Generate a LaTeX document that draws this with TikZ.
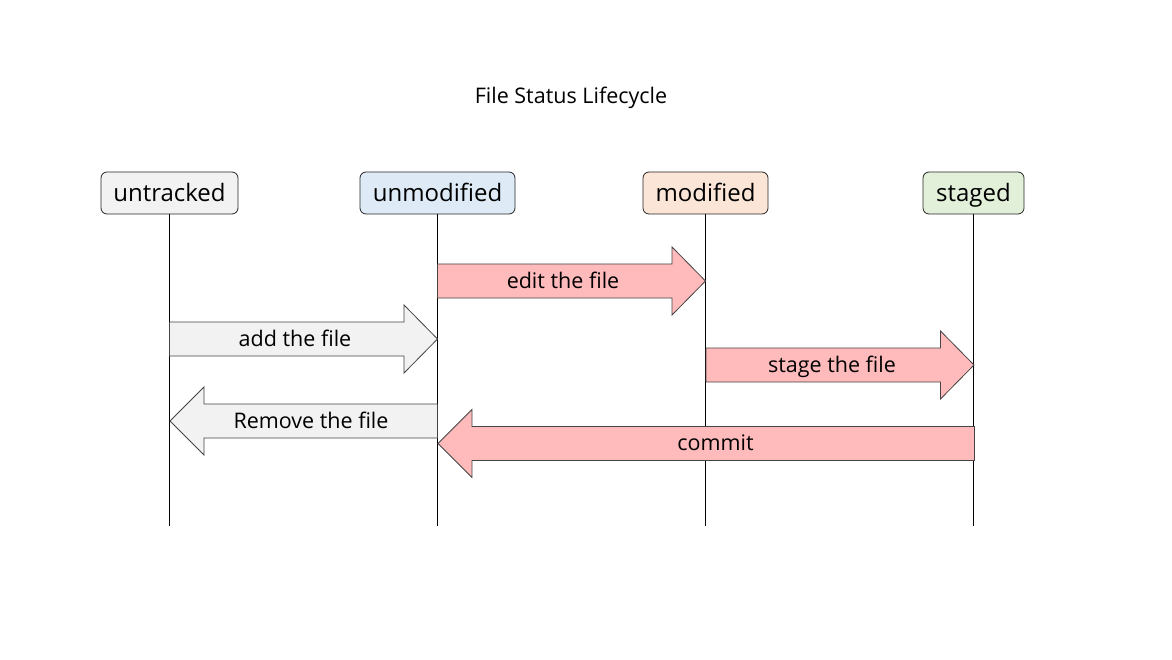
\documentclass[tikz,border=0pt]{standalone}
\usepackage{fontspec}
\setmainfont{Open Sans}
\definecolor{untrackedfill}{HTML}{F2F2F2}
\definecolor{unmodfill}{HTML}{DEEBF7}
\definecolor{modfill}{HTML}{FBE5D6}
\definecolor{stagedfill}{HTML}{E2F0D9}
\definecolor{pinkfill}{HTML}{FFBBBB}
\definecolor{grayfill}{HTML}{F2F2F2}
\definecolor{edgegray}{HTML}{444444}
\begin{document}
\begin{tikzpicture}[x=1pt,y=-1pt,
  state/.style={draw=black!85, line width=0.8pt, rounded corners=6pt, minimum height=42pt, inner sep=0pt, text height=24pt, text depth=6pt, font=\fontsize{24}{28}\selectfont},
  lifeline/.style={draw=black, line width=0.9pt},
  bigarrow/.style={draw=edgegray, line width=0.8pt},
  arrowlabel/.style={font=\fontsize{21.5}{26}\selectfont, inner sep=0pt, text height=19.4pt, text depth=5pt},
]
\useasboundingbox (0,0) rectangle (1172,660);
\fill[white] (0,0) rectangle (1172,660);

\node[font=\fontsize{21.5}{26}\selectfont, anchor=base, inner sep=0pt] (title) at (571,103.3) {File Status Lifecycle};

\node[state, fill=untrackedfill, minimum width=137pt] (untracked) at (169.5,193) {untracked};
\node[state, fill=unmodfill, minimum width=155pt] (unmodified) at (437.5,193) {unmodified};
\node[state, fill=modfill, minimum width=125pt] (modified) at (705.5,193) {modified};
\node[state, fill=stagedfill, minimum width=101pt] (staged) at (973.5,193) {staged};

\coordinate (untrackedEnd) at (169.5,526);
\coordinate (unmodifiedEnd) at (437.5,526);
\coordinate (modifiedEnd) at (705.5,526);
\coordinate (stagedEnd) at (973.5,526);

\draw[lifeline] (untracked.south) -- (untrackedEnd);
\draw[lifeline] (unmodified.south) -- (unmodifiedEnd);
\draw[lifeline] (modified.south) -- (modifiedEnd);
\draw[lifeline] (staged.south) -- (stagedEnd);

% edit the file: unmodified -> modified
\draw[bigarrow, fill=pinkfill] (437.5,264) -- (672,264) -- (672,247) -- (705.5,281) -- (672,315) -- (672,298) -- (437.5,298) -- cycle;
\node[arrowlabel] (editlabel) at (563,281) {edit the file};

% add the file: untracked -> unmodified
\draw[bigarrow, fill=grayfill] (169.5,322) -- (404,322) -- (404,305) -- (437.5,339) -- (404,373) -- (404,356) -- (169.5,356) -- cycle;
\node[arrowlabel] (addlabel) at (295,339) {add the file};

% stage the file: modified -> staged
\draw[bigarrow, fill=pinkfill] (706,348) -- (940.5,348) -- (940.5,331) -- (974,365) -- (940.5,399) -- (940.5,382) -- (706,382) -- cycle;
\node[arrowlabel] (stagelabel) at (832,365) {stage the file};

% Remove the file: unmodified -> untracked
\draw[bigarrow, fill=grayfill] (437.5,404) -- (204,404) -- (204,387) -- (170,421) -- (204,455) -- (204,438) -- (437.5,438) -- cycle;
\node[arrowlabel] (removelabel) at (311,421) {Remove the file};

% commit: staged -> unmodified
\draw[bigarrow, fill=pinkfill] (974.5,426.5) -- (472,426.5) -- (472,409.5) -- (438,443.5) -- (472,477.5) -- (472,460.5) -- (974.5,460.5) -- cycle;
\node[arrowlabel] (commitlabel) at (715.5,443.5) {commit};
\end{tikzpicture}
\end{document}
